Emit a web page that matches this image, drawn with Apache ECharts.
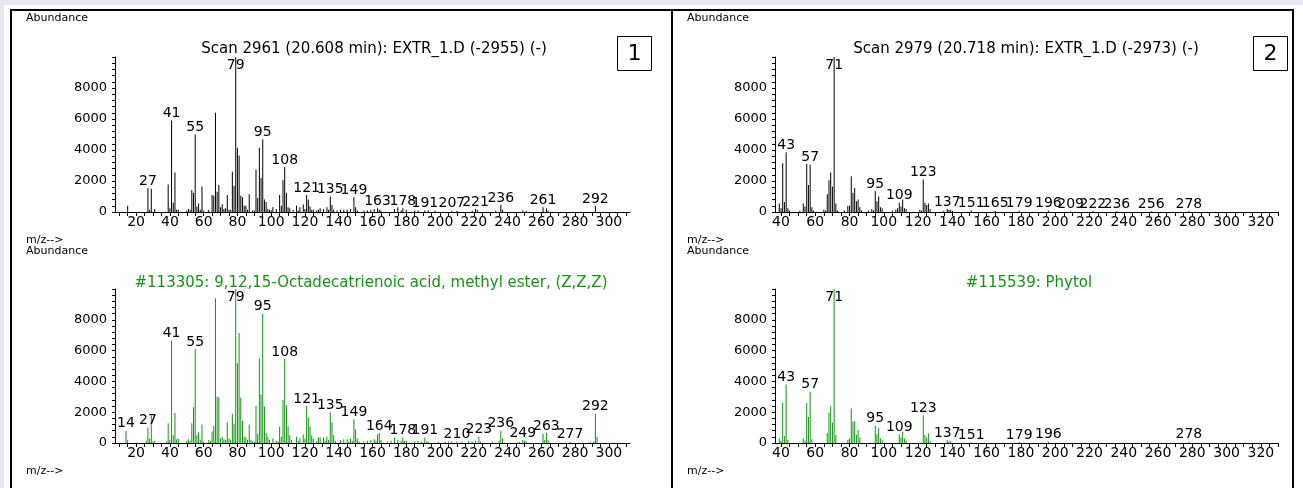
<!DOCTYPE html>
<html><head><meta charset="utf-8">
<script src="https://cdn.jsdelivr.net/npm/echarts@6/dist/echarts.min.js"></script>
<style>html,body{margin:0;padding:0;background:#fff}#c{width:1303px;height:488px}</style>
</head><body><div id="c"></div>
<script>
// ---- Panel 1, top: measured scan ----
const p1ScanMz = [15,27,28,29,31,39,40,41,42,43,44,45,50,51,52,53,54,55,56,57,58,59,60,63,65,66,67,68,69,70,71,72,73,74,75,76,77,78,79,80,81,82,83,84,85,86,87,89,90,91,92,93,94,95,96,97,98,99,100,101,103,105,106,107,108,109,110,111,113,115,116,117,119,120,121,122,123,124,125,127,128,129,131,133,134,135,136,137,139,141,143,145,147,149,150,151,155,157,159,161,163,164,165,173,175,177,178,180,185,187,191,193,197,207,210,219,221,222,233,236,237,249,251,261,263,264,292];
const p1ScanAb = [400,1550,150,1500,200,1780,250,5900,600,2550,150,150,100,200,150,1420,1250,5000,350,550,150,1650,100,150,1100,1050,6400,1300,1750,300,500,200,250,1100,150,150,2600,1700,10000,4150,3650,1050,950,400,400,150,1150,100,100,2750,900,4150,2200,4700,800,650,200,150,100,300,200,1100,400,2050,2900,1250,300,250,150,400,100,300,480,200,1100,800,350,150,150,100,150,250,200,300,150,1000,450,150,100,150,150,150,200,950,300,100,100,100,150,200,250,150,100,200,300,100,250,150,100,100,100,100,80,80,60,80,200,150,80,450,150,100,80,300,250,100,380];
const p1ScanLabels = [27,41,55,79,95,108,121,135,149,163,178,191,207,221,236,261,292];

// ---- Panel 1, bottom: library hit ----
const p1LibMz = [14,15,26,27,28,29,30,31,38,39,40,41,42,43,44,45,50,51,52,53,54,55,56,57,58,59,60,63,64,65,66,67,68,69,70,71,72,73,74,75,76,77,78,79,80,81,82,83,84,85,86,87,88,89,90,91,92,93,94,95,96,97,98,99,101,103,104,105,106,107,108,109,110,111,112,115,116,117,119,120,121,122,123,124,125,127,128,129,131,132,133,134,135,136,137,138,141,143,145,146,147,148,149,150,151,152,155,157,159,161,162,163,164,165,169,171,173,175,177,178,179,180,185,187,189,191,192,193,199,203,205,207,210,213,217,219,221,223,224,231,235,236,237,247,249,250,251,261,262,263,264,277,289,291,292,293];
const p1LibAb = [800,200,150,1000,300,1780,100,150,100,1290,200,6650,500,1950,250,300,150,250,150,1290,2320,6100,500,700,200,1200,100,200,150,750,1100,9400,3000,2950,300,400,250,200,1350,300,200,1900,1270,10000,5200,7150,2950,1450,400,350,200,1200,200,100,100,2400,600,5480,3160,8400,2350,650,400,200,300,150,100,1050,400,2800,5450,2450,1100,500,200,400,150,300,550,300,2400,1650,1050,500,300,150,350,350,350,150,400,200,2000,1350,500,150,200,250,250,100,300,150,1550,900,300,100,100,150,200,250,150,550,650,200,100,150,350,200,150,350,150,150,100,150,100,350,100,100,80,80,100,100,100,80,150,100,150,400,100,100,150,800,300,80,200,150,100,600,200,650,200,100,80,100,1900,400];
const p1LibLabels = [14,27,41,55,79,95,108,121,135,149,164,178,191,210,223,236,249,263,277,292];

// ---- Panel 2, top: measured scan ----
const p2ScanMz = [39,40,41,42,43,44,45,51,53,54,55,56,57,58,59,65,66,67,68,69,70,71,72,73,77,79,80,81,82,83,84,85,86,87,91,93,94,95,96,97,98,99,105,107,108,109,110,111,112,113,121,122,123,124,125,126,127,135,137,138,139,140,151,165,179,196,209,222,236,256,278];
const p2ScanAb = [550,250,3150,650,3850,250,100,80,550,350,3100,1750,3050,300,100,150,100,1150,2050,2550,1650,10000,550,100,100,400,400,2300,1250,1550,700,800,300,100,100,200,100,1350,700,1000,300,250,100,150,250,600,350,800,250,200,150,100,2100,600,450,550,200,80,200,150,150,80,100,80,80,100,50,60,50,50,60];
const p2ScanLabels = [43,57,71,95,109,123,137,151,165,179,196,209,222,236,256,278];

// ---- Panel 2, bottom: library hit ----
const p2LibMz = [39,40,41,42,43,44,53,54,55,56,57,58,67,68,69,70,71,72,79,80,81,82,83,84,85,86,95,96,97,98,99,109,110,111,112,113,123,124,125,126,127,137,138,139,151,179,196,278];
const p2LibAb = [300,150,2620,450,3800,200,300,150,2580,1700,3330,250,650,1980,2390,1330,10000,520,200,300,2240,1380,1420,540,840,350,1120,580,970,300,200,550,350,750,300,150,1800,520,350,620,150,200,100,150,50,50,100,80];
const p2LibLabels = [43,57,71,95,109,123,137,151,179,196,278];

// ---- Text ----
const titles = ['Scan 2961 (20.608 min): EXTR_1.D (-2955) (-)',
                '#113305: 9,12,15-Octadecatrienoic acid, methyl ester, (Z,Z,Z)',
                'Scan 2979 (20.718 min): EXTR_1.D (-2973) (-)',
                '#115539: Phytol'];
const xTickLabels1 = [20,40,60,80,100,120,140,160,180,200,220,240,260,280,300];
const xTickLabels2 = [40,60,80,100,120,140,160,180,200,220,240,260,280,300,320];
const yTickLabels = [0,2000,4000,6000,8000];

const FONT = '"DejaVu Sans", sans-serif';
const BLACK = '#000';
const GREEN = '#119611';

function range(a, b, s) { const r = []; for (let v = a; v <= b + 1e-9; v += s) r.push(v); return r; }

function buildData(mz, ab, labels) {
  return mz.map((m, i) => {
    const item = { value: [m, ab[i]] };
    if (labels.indexOf(m) >= 0) {
      item.label = ab[i] >= 9900
        ? { show: true, position: 'insideTop', distance: 1, formatter: String(m) }
        : { show: true, position: 'top', distance: 0, formatter: String(m) };
    }
    return item;
  });
}

const grids = [
  { left: 115, top: 57, width: 515, height: 155 },
  { left: 115, top: 289, width: 515, height: 154 },
  { left: 775, top: 57, width: 503, height: 155 },
  { left: 775, top: 289, width: 503, height: 154 }
];
const xRanges = [[7.5, 312.5], [7.5, 312.5], [36.5, 330], [36.5, 330]];
const xLabelSets = [xTickLabels1, xTickLabels1, xTickLabels2, xTickLabels2];
const spectra = [
  [p1ScanMz, p1ScanAb, p1ScanLabels, BLACK],
  [p1LibMz, p1LibAb, p1LibLabels, GREEN],
  [p2ScanMz, p2ScanAb, p2ScanLabels, BLACK],
  [p2LibMz, p2LibAb, p2LibLabels, GREEN]
];

const xAxis = grids.map((g, i) => ({
  type: 'value', gridIndex: i, min: xRanges[i][0], max: xRanges[i][1],
  axisLine: { show: true, onZero: false, lineStyle: { color: BLACK, width: 1 } },
  axisTick: { show: true, length: 4, customValues: range(Math.ceil(xRanges[i][0] / 5) * 5, xRanges[i][1], 5), lineStyle: { color: BLACK } },
  axisLabel: { customValues: xLabelSets[i], color: BLACK, fontFamily: FONT, fontSize: 14, margin: 3 },
  splitLine: { show: false }
}));
const yAxis = grids.map((g, i) => ({
  type: 'value', gridIndex: i, min: 0, max: 10000,
  axisLine: { show: true, lineStyle: { color: BLACK, width: 1 } },
  axisTick: { show: true, length: 3, customValues: range(0, 10000, 400), lineStyle: { color: BLACK } },
  axisLabel: { customValues: yTickLabels, formatter: v => String(v), color: BLACK, fontFamily: FONT, fontSize: 13, margin: 8 },
  splitLine: { show: false }
}));
const series = spectra.map((s, i) => ({
  type: 'bar', xAxisIndex: i, yAxisIndex: i, barWidth: 1, barGap: '-100%',
  itemStyle: { color: s[3] },
  label: { color: BLACK, fontFamily: FONT, fontSize: 14 },
  labelLayout: { hideOverlap: false },
  data: buildData(s[0], s[1], s[2])
}));

function txt(x, y, text, opts) {
  return { type: 'text', x: x, y: y, z: 10, style: Object.assign({ text: text, fill: BLACK, font: '11px ' + FONT, textVerticalAlign: 'middle' }, opts || {}) };
}
const graphic = [
  { type: 'rect', shape: { x: 0, y: 0, width: 1303, height: 488 }, style: { fill: '#e3e7f3' }, z: -10 },
  { type: 'rect', shape: { x: 4, y: 5, width: 1299, height: 483 }, style: { fill: '#ffffff' }, z: -9 },
  { type: 'polyline', shape: { points: [[11, 488], [11, 10], [1293, 10], [1293, 488]] }, style: { stroke: BLACK, lineWidth: 2, fill: null }, z: 5 },
  { type: 'line', shape: { x1: 672, y1: 10, x2: 672, y2: 488 }, style: { stroke: BLACK, lineWidth: 2 }, z: 5 },
  txt(26, 18, 'Abundance'), txt(26, 240, 'm/z-->'),
  txt(26, 251, 'Abundance'), txt(26, 471, 'm/z-->'),
  txt(687, 18, 'Abundance'), txt(687, 240, 'm/z-->'),
  txt(687, 251, 'Abundance'), txt(687, 471, 'm/z-->'),
  txt(374, 49, titles[0], { textAlign: 'center', font: '15px ' + FONT }),
  txt(371, 283, titles[1], { textAlign: 'center', font: '15px ' + FONT, fill: GREEN }),
  txt(1026, 49, titles[2], { textAlign: 'center', font: '15px ' + FONT }),
  txt(1029, 283, titles[3], { textAlign: 'center', font: '15px ' + FONT, fill: GREEN }),
  { type: 'rect', shape: { x: 617.5, y: 36.5, width: 34, height: 34 }, style: { fill: '#fff', stroke: BLACK, lineWidth: 1 }, z: 6 },
  txt(634.5, 54, '1', { textAlign: 'center', font: '22px ' + FONT }),
  { type: 'rect', shape: { x: 1253.5, y: 36.5, width: 34, height: 34 }, style: { fill: '#fff', stroke: BLACK, lineWidth: 1 }, z: 6 },
  txt(1270.5, 54, '2', { textAlign: 'center', font: '22px ' + FONT })
];

const chart = echarts.init(document.getElementById('c'), null, { renderer: 'canvas' });
chart.setOption({ animation: false, grid: grids, xAxis: xAxis, yAxis: yAxis, series: series, graphic: graphic });
</script></body></html>
